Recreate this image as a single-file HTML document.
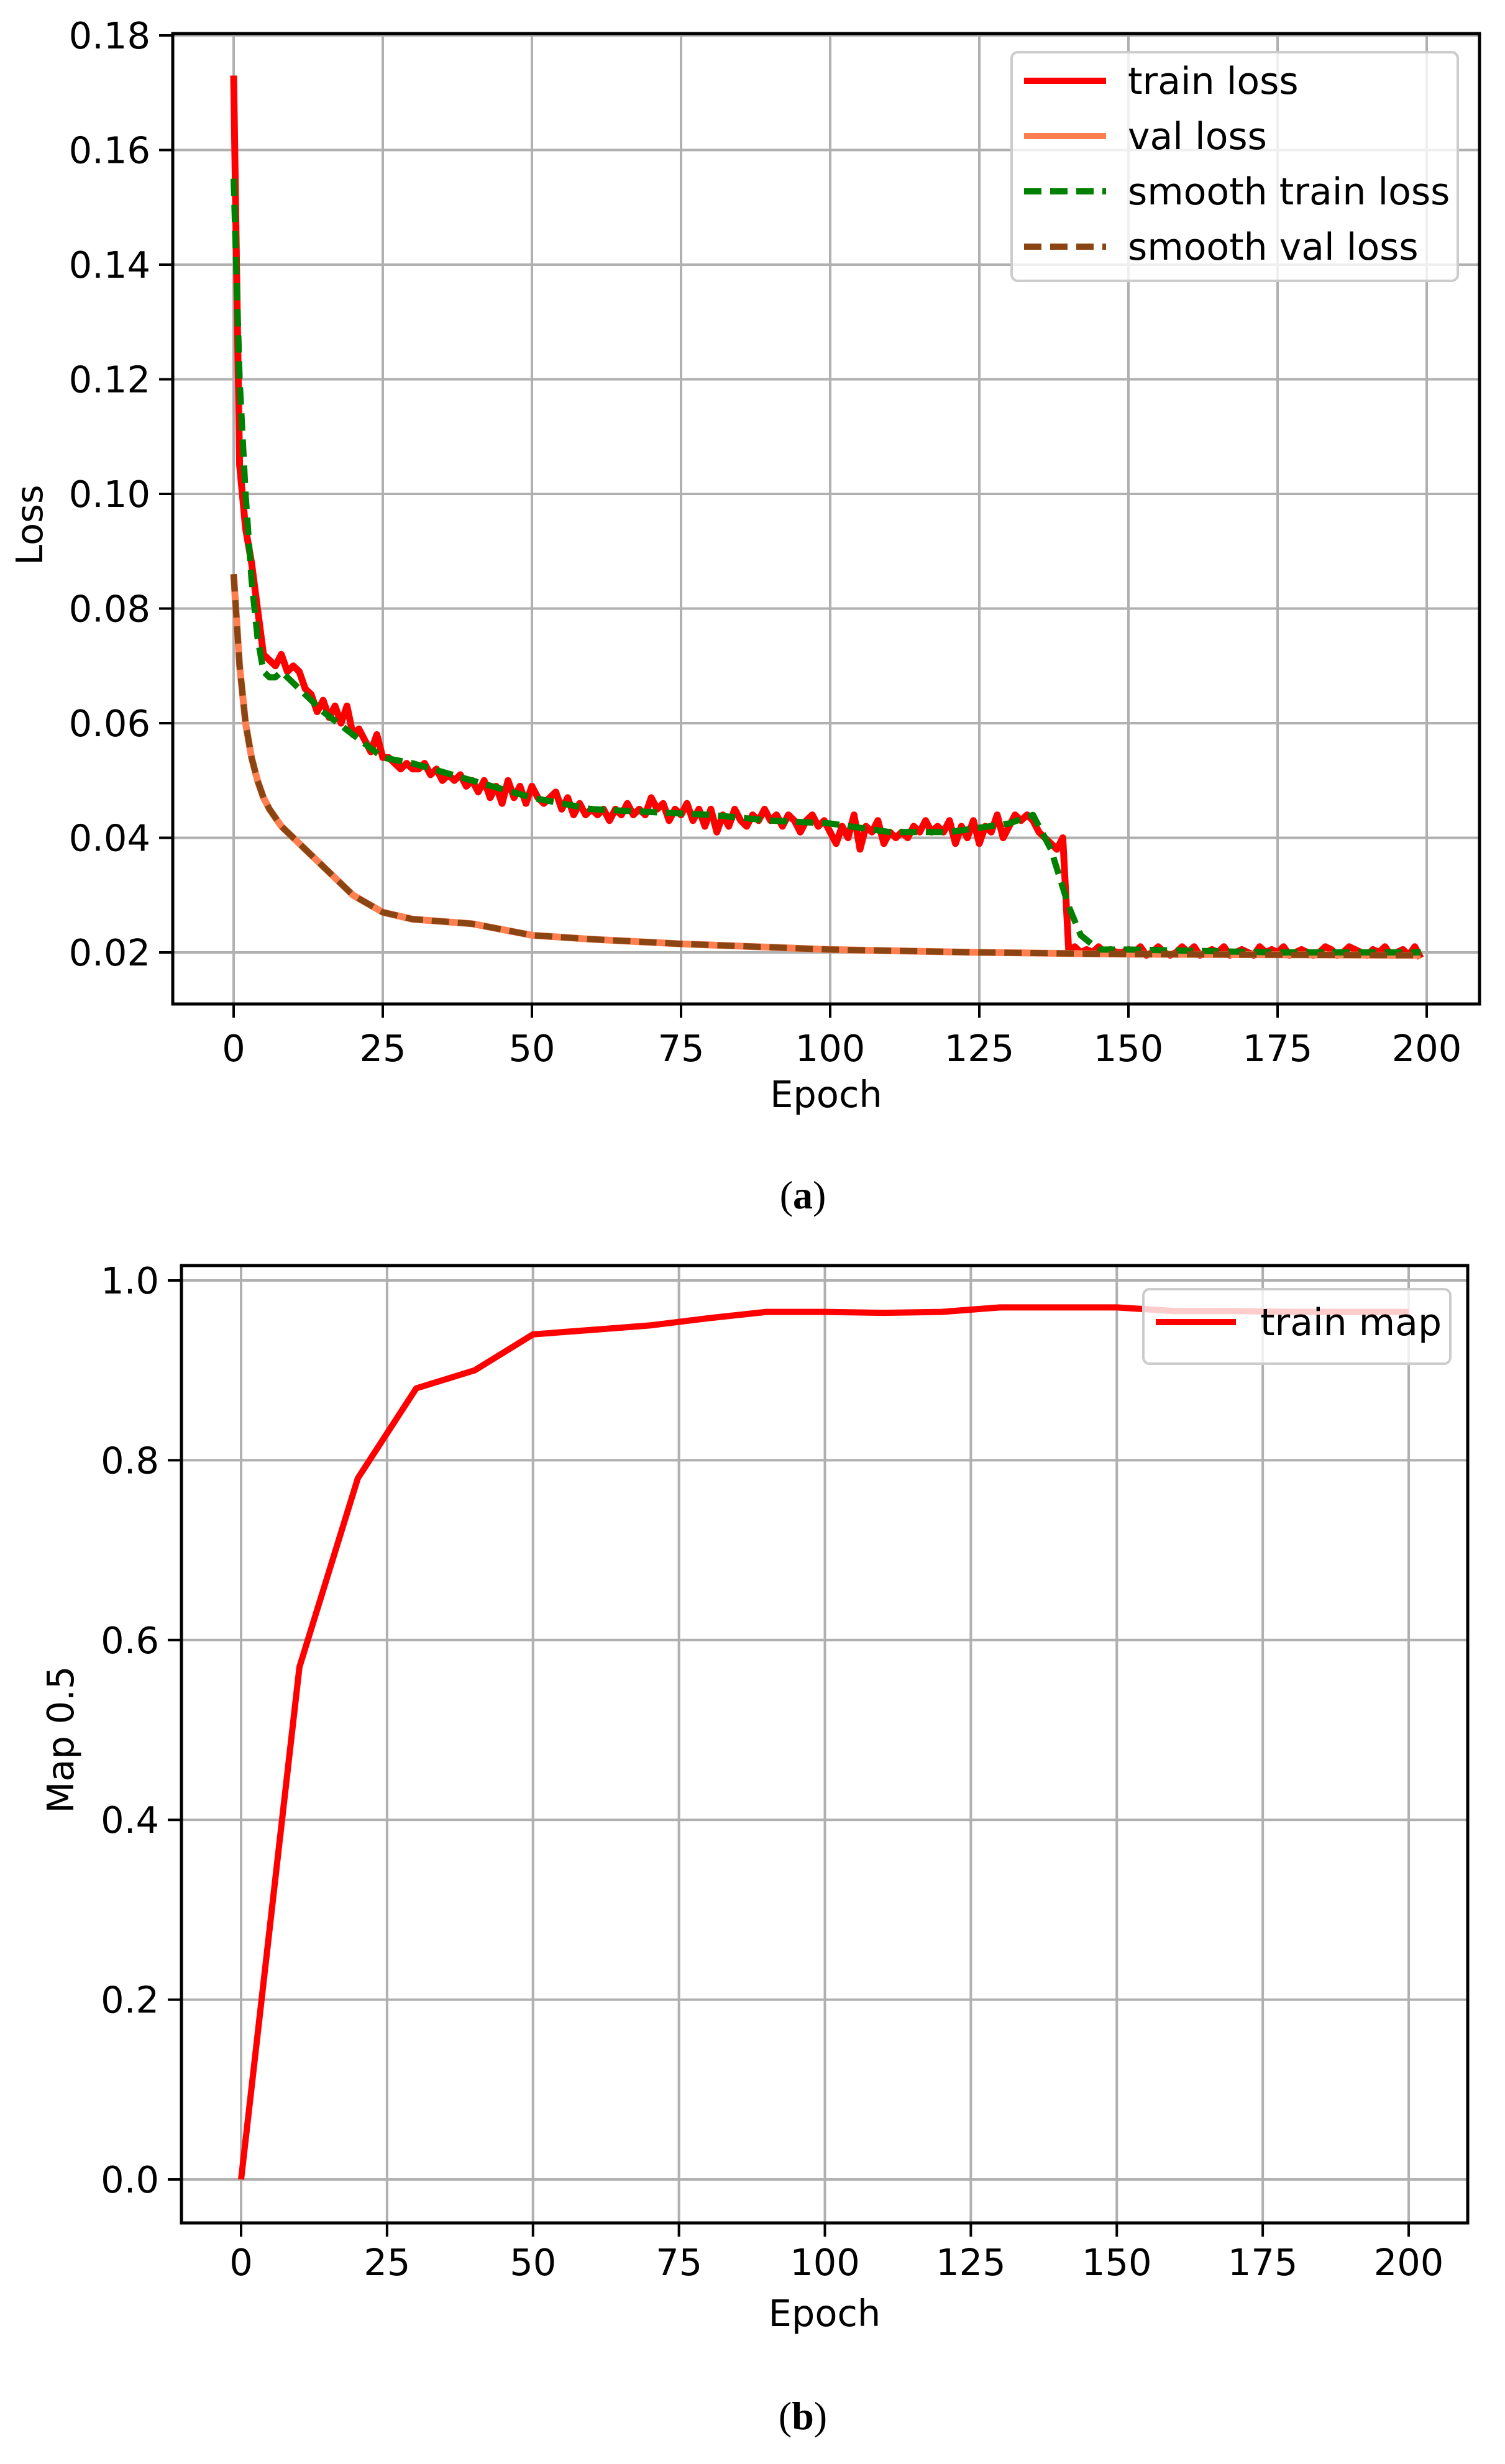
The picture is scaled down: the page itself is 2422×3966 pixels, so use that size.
<!DOCTYPE html>
<html><head><meta charset="utf-8"><style>
html,body{margin:0;padding:0;background:#fff;}
svg{display:block;}
text{font-family:"DejaVu Sans","Liberation Sans",sans-serif;fill:#000;}
</style></head><body>
<svg id="fig" width="2422" height="3966" viewBox="0 0 2422 3966" xmlns="http://www.w3.org/2000/svg">
<g id="chartA"></g>
<g id="chartB"></g>
<text x="1292" y="1945" font-size="64" text-anchor="middle" style="font-family:'Liberation Serif',serif">(<tspan font-weight="bold">a</tspan>)</text>
<text x="1292" y="3910" font-size="64" text-anchor="middle" style="font-family:'Liberation Serif',serif">(<tspan font-weight="bold">b</tspan>)</text>
</svg>
<script>
const trainLoss = [.173,.105,.094,.088,.080,.072,.071,.070,.072,.069,
.070,.069,.066,.065,.062,.064,.061,.063,.060,.063,
.058,.059,.057,.055,.058,.054,.054,.053,.052,.053,
.052,.052,.053,.051,.052,.050,.051,.050,.051,.049,
.050,.048,.050,.047,.049,.046,.050,.047,.049,.046,
.049,.047,.046,.047,.048,.045,.047,.044,.046,.044,
.045,.044,.045,.043,.045,.044,.046,.044,.045,.044,
.047,.045,.046,.043,.045,.044,.046,.043,.045,.042,
.045,.041,.044,.042,.045,.043,.042,.044,.043,.045,
.043,.044,.042,.044,.043,.041,.043,.044,.042,.043,
.041,.039,.042,.040,.044,.038,.042,.041,.043,.039,
.041,.040,.041,.040,.042,.041,.043,.041,.042,.041,
.043,.039,.042,.040,.043,.039,.042,.041,.044,.040,
.042,.044,.043,.044,.043,.041,.040,.039,.038,.040,
.020,.021,.020,.0205,.020,.021,.020,.0205,.020,.020,
.0205,.020,.021,.0195,.020,.021,.020,.0195,.020,.021,
.020,.021,.0195,.020,.0205,.020,.021,.0195,.020,.0205,
.020,.0195,.021,.020,.0205,.020,.021,.0195,.020,.0205,
.020,.0195,.020,.021,.0205,.0195,.020,.021,.0205,.020,
.0195,.0205,.020,.021,.0195,.020,.0205,.0195,.021,.019];
const smoothEpochs = [0,1,2,3,4,5,6,7,8,10,15,20,25,30,40,50,60,70,80,90,100,110,120,130,134,137,140,142,145,150,175,199];
const smoothTrain = [.155,.120,.100,.085,.075,.069,.068,.068,.069,.067,.062,.058,.054,.053,.050,.047,.045,.0445,.044,.043,.0425,.041,.041,.0425,.044,.038,.028,.023,.0205,.0205,.020,.020];
const valEpochs = [0,1,2,3,4,5,6,7,8,10,12,15,18,20,25,30,35,40,50,60,75,100,125,150,175,199];
const valLoss = [.086,.070,.060,.054,.050,.047,.045,.0435,.042,.040,.038,.035,.032,.030,.027,.0258,.0254,.025,.023,.0223,.0215,.0205,.020,.0197,.0196,.0195];
const mapEpochs = [0,10,20,30,40,50,60,70,80,90,100,110,120,130,140,150,160,170,180,190,200];
const mapValues = [0.0,0.57,0.78,0.88,0.90,0.94,0.945,0.95,0.958,0.965,0.965,0.964,0.965,0.97,0.97,0.97,0.966,0.966,0.965,0.965,0.965];
const xTicks = [0,25,50,75,100,125,150,175,200];
const yTicksA = [0.02,0.04,0.06,0.08,0.10,0.12,0.14,0.16,0.18];
const yTicksB = [0.0,0.2,0.4,0.6,0.8,1.0];

const NS="http://www.w3.org/2000/svg";
function mk(parent,tag,attrs){const e=document.createElementNS(NS,tag);for(const k in attrs)e.setAttribute(k,attrs[k]);parent.appendChild(e);return e;}

function axes(g,box,sx,sy,yt,ydec,ylab,ylx,yly,tickDy,titleDy){
  mk(g,'rect',{x:box.l,y:box.t,width:box.r-box.l,height:box.b-box.t,fill:'#fff'});
  xTicks.forEach(v=>{
    const x=sx(v);
    const gl=mk(g,'line',{x1:x,x2:x,y1:box.t,y2:box.b,stroke:'#b0b0b0','stroke-width':4});
    
    
    mk(g,'line',{x1:x,x2:x,y1:box.b,y2:box.b+22,stroke:'#000','stroke-width':4});
    const t=mk(g,'text',{x:x,y:box.b+tickDy,'font-size':59,'text-anchor':'middle'});
    t.textContent=v;
    
    
  });
  yt.forEach(v=>{
    const y=sy(v);
    const gl=mk(g,'line',{x1:box.l,x2:box.r,y1:y,y2:y,stroke:'#b0b0b0','stroke-width':4});
    
    
    mk(g,'line',{x1:box.l-22,x2:box.l,y1:y,y2:y,stroke:'#000','stroke-width':4});
    const t=mk(g,'text',{x:box.l-36,y:y+21,'font-size':59,'text-anchor':'end'});
    t.textContent=v.toFixed(ydec);
    
    
  });
  const xl=mk(g,'text',{x:(box.l+box.r)/2,y:box.b+titleDy,'font-size':59,'text-anchor':'middle'});
  xl.textContent='Epoch';
  
  
  const yl=mk(g,'text',{x:ylx,y:yly,'font-size':59,'text-anchor':'middle',transform:`rotate(-90 ${ylx} ${yly})`});
  yl.textContent=ylab;
  
  
}
function frame(g,box){
  const f=mk(g,'rect',{x:box.l,y:box.t,width:box.r-box.l,height:box.b-box.t,fill:'none',stroke:'#000','stroke-width':5});
  
  
}
function path(g,xs,ys,sx,sy,style){
  const d=xs.map((x,i)=>(i?'L':'M')+sx(x).toFixed(1)+','+sy(ys[i]).toFixed(1)).join('');
  return mk(g,'path',Object.assign({d:d,fill:'none','stroke-linejoin':'round'},style));
}

// Chart A
const gA=document.getElementById('chartA');
const boxA={l:278,r:2381,t:54,b:1616};
const sxA=v=>376+(v-0)*(2296-376)/200;
const syA=v=>1533-(v-0.02)*(1533-57)/0.16;
axes(gA,boxA,sxA,syA,yTicksA,2,'Loss',68,845,92,166);
const epochsA=trainLoss.map((_,i)=>i);
let p=path(gA,epochsA,trainLoss,sxA,syA,{stroke:'#ff0000','stroke-width':11});


p=path(gA,valEpochs,valLoss,sxA,syA,{stroke:'#ff7f50','stroke-width':11});


p=path(gA,smoothEpochs,smoothTrain,sxA,syA,{stroke:'#008000','stroke-width':10,'stroke-dasharray':'28 14'});


p=path(gA,valEpochs,valLoss,sxA,syA,{stroke:'#8b4513','stroke-width':10,'stroke-dasharray':'28 14'});


frame(gA,boxA);
const legA=mk(gA,'g',{});


mk(legA,'rect',{x:1628,y:84,width:718,height:368,rx:10,fill:'#fff','fill-opacity':0.8,stroke:'#cccccc','stroke-width':4});
const legNames=['train loss','val loss','smooth train loss','smooth val loss'];
const legStyles=[{stroke:'#ff0000'},{stroke:'#ff7f50'},{stroke:'#008000','stroke-dasharray':'28 14'},{stroke:'#8b4513','stroke-dasharray':'28 14'}];
legNames.forEach((n,i)=>{
  const y=130+i*89;
  const ln=mk(legA,'line',Object.assign({x1:1648,x2:1780,y1:y,y2:y,'stroke-width':10},legStyles[i]));
  
  
  const t=mk(legA,'text',{x:1815,y:y+21,'font-size':60});
  t.textContent=n;
  
  
});

// Chart B
const gB=document.getElementById('chartB');
const boxB={l:292,r:2362,t:2037,b:3578};
const sxB=v=>388+(v-0)*(2267-388)/200;
const syB=v=>3508-v*(3508-2061);
axes(gB,boxB,sxB,syB,yTicksB,1,'Map 0.5',118,2800,84,166);
p=path(gB,mapEpochs,mapValues,sxB,syB,{stroke:'#ff0000','stroke-width':10});


frame(gB,boxB);
const legB=mk(gB,'g',{});


mk(legB,'rect',{x:1840,y:2075,width:494,height:120,rx:10,fill:'#fff','fill-opacity':0.8,stroke:'#cccccc','stroke-width':4});
const lnB=mk(legB,'line',{x1:1860,x2:1989,y1:2128,y2:2128,stroke:'#ff0000','stroke-width':10});


const tB=mk(legB,'text',{x:2028,y:2149,'font-size':60});
tB.textContent='train map';


</script>
</body></html>
